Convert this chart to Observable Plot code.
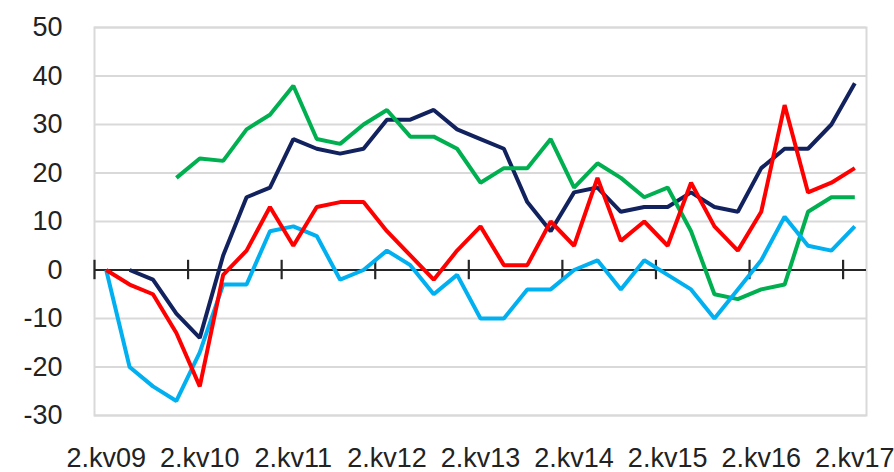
<!DOCTYPE html>
<html>
<head>
<meta charset="utf-8">
<script src="https://cdn.jsdelivr.net/npm/d3@7"></script>
<script src="https://cdn.jsdelivr.net/npm/@observablehq/plot@0.6"></script>
<style>
  html, body { margin: 0; padding: 0; background: #fff; }
  #chart { width: 894px; height: 472px; }
</style>
</head>
<body>
<div id="chart"></div>
<script>
const quarters = [
  "2.kv09","3.kv09","4.kv09","1.kv10",
  "2.kv10","3.kv10","4.kv10","1.kv11",
  "2.kv11","3.kv11","4.kv11","1.kv12",
  "2.kv12","3.kv12","4.kv12","1.kv13",
  "2.kv13","3.kv13","4.kv13","1.kv14",
  "2.kv14","3.kv14","4.kv14","1.kv15",
  "2.kv15","3.kv15","4.kv15","1.kv16",
  "2.kv16","3.kv16","4.kv16","1.kv17",
  "2.kv17"
];
const seriesA = [null, 0, -2, -9, -14, 3, 15, 17, 27, 25, 24, 25, 31, 31, 33, 29, 27, 25, 14, 8, 16, 17, 12, 13, 13, 16, 13, 12, 21, 25, 25, 30, 38.5];
const seriesB = [null, null, null, 19, 23, 22.5, 29, 32, 38, 27, 26, 30, 33, 27.5, 27.5, 25, 18, 21, 21, 27, 17, 22, 19, 15, 17, 8, -5, -6, -4, -3, 12, 15, 15];
const seriesC = [0, -20, -24, -27, -17, -3, -3, 8, 9, 7, -2, 0, 4, 1, -5, -1, -10, -10, -4, -4, 0, 2, -4, 2, -1, -4, -10, -4, 2, 11, 5, 4, 9];
const seriesD = [0, -3, -5, -13, -24, -1, 4, 13, 5, 13, 14, 14, 8, 3, -2, 4, 9, 1, 1, 10, 5, 19, 6, 10, 5, 18, 9, 4, 12, 34, 16, 18, 21];
const yTicks = [-30, -20, -10, 0, 10, 20, 30, 40, 50];
const labelEvery = 4;

const seriesList = [
  {name: "A", values: seriesA, color: "#12225e"},
  {name: "B", values: seriesB, color: "#00b050"},
  {name: "C", values: seriesC, color: "#00b0f0"},
  {name: "D", values: seriesD, color: "#ff0000"}
];
const rows = seriesList.flatMap(s => s.values.map((v, i) => ({i, v, series: s.name})));
const labelIdx = quarters.map((q, i) => i).filter(i => i % labelEvery === 0);
const tickBounds = labelIdx.map(i => i - 0.5);

const font = "'Liberation Sans', Arial, sans-serif";
const chart = Plot.plot({
  width: 894,
  height: 472,
  marginLeft: 94,
  marginRight: 28,
  marginTop: 27,
  marginBottom: 57,
  style: {fontFamily: font, fontSize: "27px", color: "#222", background: "#fff"},
  x: {type: "linear", domain: [-0.5, quarters.length - 0.5], label: null},
  y: {domain: [-30, 50], label: null},
  color: {type: "ordinal", domain: seriesList.map(s => s.name), range: seriesList.map(s => s.color)},
  marks: [
    Plot.ruleY(yTicks, {stroke: "#d9d9d9", strokeWidth: 2}),
    Plot.frame({stroke: "#d9d9d9", strokeWidth: 2}),
    Plot.axisY(yTicks, {tickSize: 0, tickPadding: 32, tickFormat: d => String(d), fontSize: 27, fill: "#222", label: null}),
    Plot.axisX(labelIdx, {tickSize: 0, tickPadding: 32, tickFormat: i => quarters[i], fontSize: 27, fill: "#222", label: null}),
    Plot.ruleY([0], {stroke: "#262626", strokeWidth: 2.2}),
    Plot.ruleX(tickBounds, {y1: -2, y2: 2, stroke: "#262626", strokeWidth: 2.2}),
    Plot.line(rows, {x: "i", y: "v", z: "series", stroke: "series", strokeWidth: 4, strokeLinejoin: "miter", strokeLinecap: "butt"})
  ]
});
document.getElementById("chart").appendChild(chart);
</script>
</body>
</html>
